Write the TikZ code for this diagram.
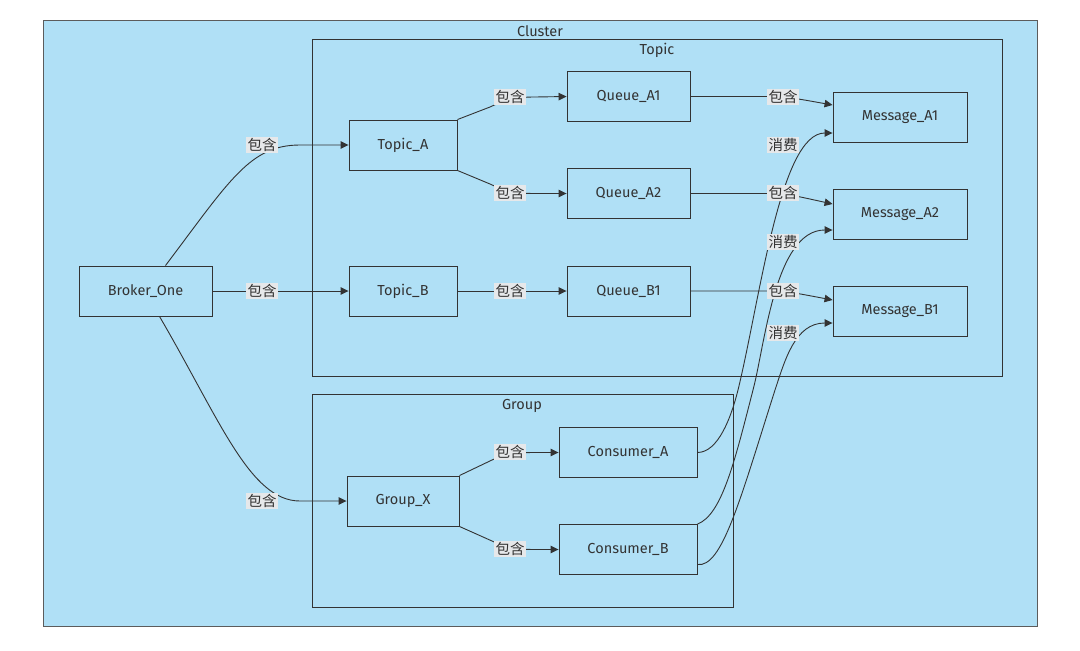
\documentclass[tikz,border=0pt]{standalone}
\usepackage{fontspec}
\setmainfont{Fira Sans}
\newfontfamily\cjk{Noto Sans CJK SC}
\usetikzlibrary{arrows.meta,calc}
\definecolor{bg}{RGB}{176,224,246}
\definecolor{ln}{RGB}{51,51,51}
\definecolor{lab}{RGB}{230,232,234}
\begin{document}
\begin{tikzpicture}[x=1pt,y=-1pt,
  box/.style={draw=ln, line width=0.9pt, fill=bg, minimum height=50pt, text=ln, inner sep=0pt,
    font=\fontsize{14.5}{16}\selectfont},
  grp/.style={draw=ln, line width=0.9pt},
  grplab/.style={text=ln, inner sep=0pt, font=\fontsize{14.5}{16}\selectfont},
  elab/.style={fill=lab, text=ln, inner sep=1.3pt, font=\cjk\fontsize{14.5}{16}\selectfont},
  arr/.style={draw=ln, line width=0.9pt, -{Triangle[length=8pt,width=7.5pt]}}]
\useasboundingbox (0,0) rectangle (1080,651);
\fill[white] (0,0) rectangle (1080,651);
% cluster
\draw[fill=bg, draw=ln!80, line width=0.8pt] (43,20) rectangle (1037,626);
\node[grplab] (lcluster) at (540,31) {Cluster};
\draw[grp] (312,39) rectangle (1002,376);
\node[grplab] (ltopic) at (657,50) {Topic};
\draw[grp] (312,394) rectangle (733,607);
\node[grplab] (lgroup) at (522,406) {Group};
% nodes
\node[box, minimum width=133pt] (broker) at (145.5,291) {Broker\_One};
\node[box, minimum width=108pt] (ta) at (403,145) {Topic\_A};
\node[box, minimum width=108pt] (tb) at (403,291) {Topic\_B};
\node[box, minimum width=123pt] (qa1) at (628.5,96.5) {Queue\_A1};
\node[box, minimum width=123pt] (qa2) at (628.5,193.5) {Queue\_A2};
\node[box, minimum width=123pt] (qb1) at (628.5,291) {Queue\_B1};
\node[box, minimum width=134pt] (ma1) at (900,117) {Message\_A1};
\node[box, minimum width=134pt] (ma2) at (900,214) {Message\_A2};
\node[box, minimum width=134pt] (mb1) at (900,311) {Message\_B1};
\node[box, minimum width=112pt] (gx) at (403,501) {Group\_X};
\node[box, minimum width=138pt] (ca) at (628,452.5) {Consumer\_A};
\node[box, minimum width=138pt] (cb) at (628,549.5) {Consumer\_B};
% edges
\draw[arr] ($(broker.north)+(20,0)$) .. controls (230,180) and (250,145) .. (300,145) -- (ta.west);
\draw[arr] (broker.east) -- (tb.west);
\draw[arr] ($(broker.south)+(14,0)$) .. controls (220,420) and (250,501) .. (300,501) -- (gx.west);
\draw[arr] (ta.north east) -- (490,107) .. controls (505,100) and (515,97) .. (535,97) -- (qa1.west);
\draw[arr] (ta.south east) -- (490,184) .. controls (505,191) and (515,193.5) .. (535,193.5) -- (qa2.west);
\draw[arr] (tb.east) -- (qb1.west);
\draw[arr] (gx.north east) -- (492,460) .. controls (505,454) and (515,452.5) .. (535,452.5) -- (ca.west);
\draw[arr] (gx.south east) -- (492,541) .. controls (505,547) and (515,549.5) .. (535,549.5) -- (cb.west);
\draw[arr] (qa1.east) -- (765,96.5) .. controls (785,96.5) .. ($(ma1.west)+(0,-12)$);
\draw[arr] (qa2.east) -- (765,193.5) .. controls (785,193.5) .. ($(ma2.west)+(0,-10)$);
\draw[arr] (qb1.east) -- (765,291) .. controls (785,291) .. ($(mb1.west)+(0,-11)$);
\draw[arr] (ca.east) .. controls (718,452.5) and (731,418) .. (738,390) .. controls (760,300) and (780,133) .. ($(ma1.west)+(0,16)$);
\draw[arr] (cb.north east) .. controls (722,515) and (735,460) .. (753,390) .. controls (765,345) and (775,230) .. ($(ma2.west)+(0,16)$);
\draw[arr] ($(cb.east)+(0,15)$) .. controls (722,568) and (740,500) .. (775,390) .. controls (785,360) and (795,323) .. ($(mb1.west)+(0,12)$);
% edge labels
\node[elab] (l1) at (262,145) {包含};
\node[elab] (l2) at (262,291) {包含};
\node[elab] (l3) at (262,501) {包含};
\node[elab] (l4) at (510,97) {包含};
\node[elab] (l5) at (510,193) {包含};
\node[elab] (l6) at (510,291) {包含};
\node[elab] (l7) at (510,452) {包含};
\node[elab] (l8) at (510,549) {包含};
\node[elab] (l9) at (783,97) {包含};
\node[elab] (l10) at (783,193) {包含};
\node[elab] (l11) at (783,291) {包含};
\node[elab] (l12) at (783,145) {消费};
\node[elab] (l13) at (783,242) {消费};
\node[elab] (l14) at (783,333) {消费};
\end{tikzpicture}
\end{document}
